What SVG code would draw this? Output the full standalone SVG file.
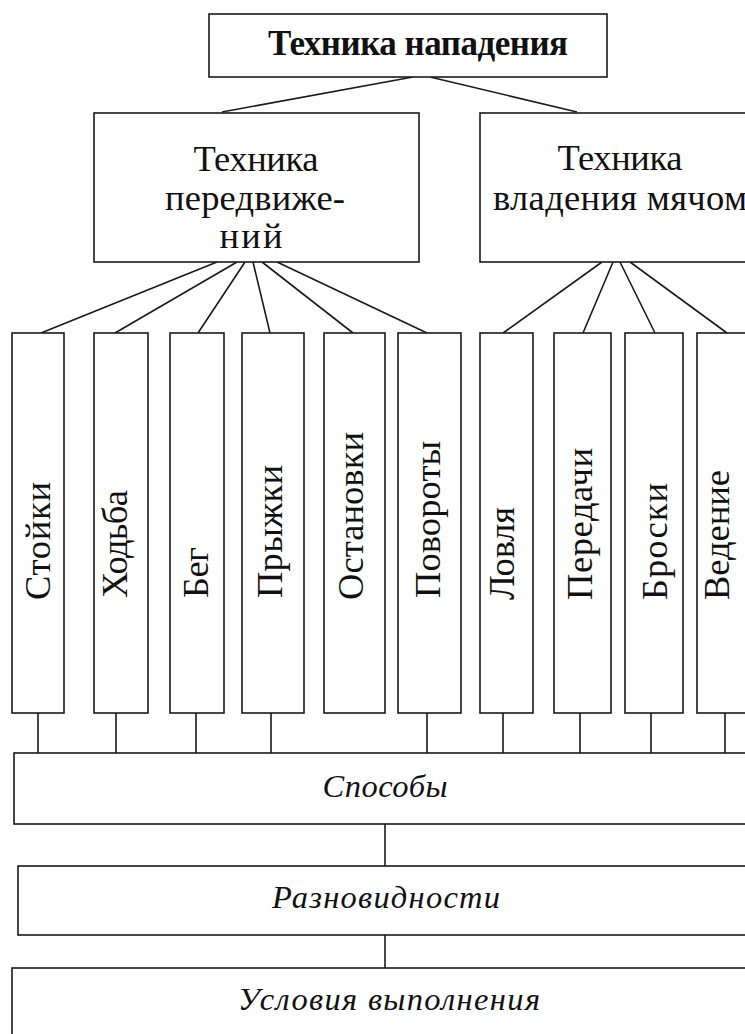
<svg xmlns="http://www.w3.org/2000/svg" width="745" height="1034" viewBox="0 0 745 1034">
<style>
.box{fill:#fff;stroke:#1a1a1a;stroke-width:1.6}
.ln{stroke:#1a1a1a;stroke-width:1.6;fill:none}
.t{font-family:"Liberation Serif","Times New Roman",serif;font-size:36.5px;fill:#111}
.b{font-weight:bold;font-size:35px}
.i{font-style:italic;font-size:32.5px}
.v{font-family:"Liberation Serif","Times New Roman",serif;font-size:36.5px;fill:#111}
</style>
<rect width="745" height="1034" fill="#fff"/>
<g id="connectors">
<line class="ln" x1="413" y1="77" x2="222" y2="112"/>
<line class="ln" x1="430" y1="77" x2="577" y2="112"/>
<line class="ln" x1="217" y1="262" x2="41" y2="333"/>
<line class="ln" x1="237" y1="262" x2="115" y2="333"/>
<line class="ln" x1="245" y1="262" x2="198" y2="333"/>
<line class="ln" x1="253" y1="262" x2="270" y2="333"/>
<line class="ln" x1="262" y1="262" x2="353" y2="333"/>
<line class="ln" x1="277" y1="262" x2="427" y2="333"/>
<line class="ln" x1="602" y1="262" x2="503" y2="333"/>
<line class="ln" x1="613" y1="262" x2="583" y2="333"/>
<line class="ln" x1="620" y1="262" x2="655" y2="333"/>
<line class="ln" x1="630" y1="262" x2="727" y2="333"/>
<line class="ln" x1="38" y1="713" x2="38" y2="753"/>
<line class="ln" x1="116" y1="713" x2="116" y2="753"/>
<line class="ln" x1="196" y1="713" x2="196" y2="753"/>
<line class="ln" x1="271" y1="713" x2="271" y2="753"/>
<line class="ln" x1="427" y1="713" x2="427" y2="753"/>
<line class="ln" x1="503" y1="713" x2="503" y2="753"/>
<line class="ln" x1="580" y1="713" x2="580" y2="753"/>
<line class="ln" x1="651" y1="713" x2="651" y2="753"/>
<line class="ln" x1="725" y1="713" x2="725" y2="753"/>
<line class="ln" x1="385" y1="824" x2="385" y2="866"/>
<line class="ln" x1="385" y1="935" x2="385" y2="968"/>
</g>
<g id="n-tech-attack">
<rect class="box" x="209" y="14" width="398" height="63"/>
<text class="t b" x="418" y="55" text-anchor="middle" textLength="300" lengthAdjust="spacing">Техника нападения</text>
</g>
<g id="n-movement">
<rect class="box" x="94" y="113" width="325" height="149"/>
<text class="t" x="256" y="171" text-anchor="middle" textLength="125" lengthAdjust="spacing">Техника</text>
<text class="t" x="255" y="210" text-anchor="middle" textLength="180" lengthAdjust="spacing">передвиже-</text>
<text class="t" x="251" y="248" text-anchor="middle" textLength="63" lengthAdjust="spacing">ний</text>
</g>
<g id="n-ball">
<rect class="box" x="480" y="113" width="280" height="149"/>
<text class="t" x="620" y="170" text-anchor="middle" textLength="125" lengthAdjust="spacing">Техника</text>
<text class="t" x="620" y="210" text-anchor="middle" textLength="254" lengthAdjust="spacing">владения мячом</text>
</g>
<g id="n-stoyki">
<rect class="box" x="12" y="333" width="52" height="380"/>
<text class="v" transform="translate(50,600) rotate(-90)" textLength="118" lengthAdjust="spacing">Стойки</text>
</g>
<g id="n-hodba">
<rect class="box" x="94" y="333" width="54" height="380"/>
<text class="v" transform="translate(127,598) rotate(-90)" textLength="108" lengthAdjust="spacing">Ходьба</text>
</g>
<g id="n-beg">
<rect class="box" x="170" y="333" width="54" height="380"/>
<text class="v" transform="translate(208,598) rotate(-90)" textLength="51" lengthAdjust="spacing">Бег</text>
</g>
<g id="n-pryzhki">
<rect class="box" x="242" y="333" width="62" height="380"/>
<text class="v" transform="translate(282,598) rotate(-90)" textLength="133" lengthAdjust="spacing">Прыжки</text>
</g>
<g id="n-ostanovki">
<rect class="box" x="324" y="333" width="61" height="380"/>
<text class="v" transform="translate(363,600) rotate(-90)" textLength="168" lengthAdjust="spacing">Остановки</text>
</g>
<g id="n-povoroty">
<rect class="box" x="398" y="333" width="63" height="380"/>
<text class="v" transform="translate(440,598) rotate(-90)" textLength="157" lengthAdjust="spacing">Повороты</text>
</g>
<g id="n-lovlya">
<rect class="box" x="480" y="333" width="53" height="380"/>
<text class="v" transform="translate(514,600) rotate(-90)" textLength="93" lengthAdjust="spacing">Ловля</text>
</g>
<g id="n-peredachi">
<rect class="box" x="554" y="333" width="57" height="380"/>
<text class="v" transform="translate(592,600) rotate(-90)" textLength="152" lengthAdjust="spacing">Передачи</text>
</g>
<g id="n-broski">
<rect class="box" x="625" y="333" width="58" height="380"/>
<text class="v" transform="translate(667,600) rotate(-90)" textLength="117" lengthAdjust="spacing">Броски</text>
</g>
<g id="n-vedenie">
<rect class="box" x="697" y="333" width="60" height="380"/>
<text class="v" transform="translate(729,600) rotate(-90)" textLength="130" lengthAdjust="spacing">Ведение</text>
</g>
<g id="n-sposoby">
<rect class="box" x="14" y="753" width="746" height="71"/>
<text class="t i" x="385" y="797" text-anchor="middle" textLength="125" lengthAdjust="spacing">Способы</text>
</g>
<g id="n-raznovidnosti">
<rect class="box" x="18" y="866" width="742" height="69"/>
<text class="t i" x="386" y="908" text-anchor="middle" textLength="228" lengthAdjust="spacing">Разновидности</text>
</g>
<g id="n-usloviya">
<rect class="box" x="12" y="968" width="748" height="80"/>
<text class="t i" x="389" y="1010" text-anchor="middle" textLength="302" lengthAdjust="spacing">Условия выполнения</text>
</g>
</svg>
